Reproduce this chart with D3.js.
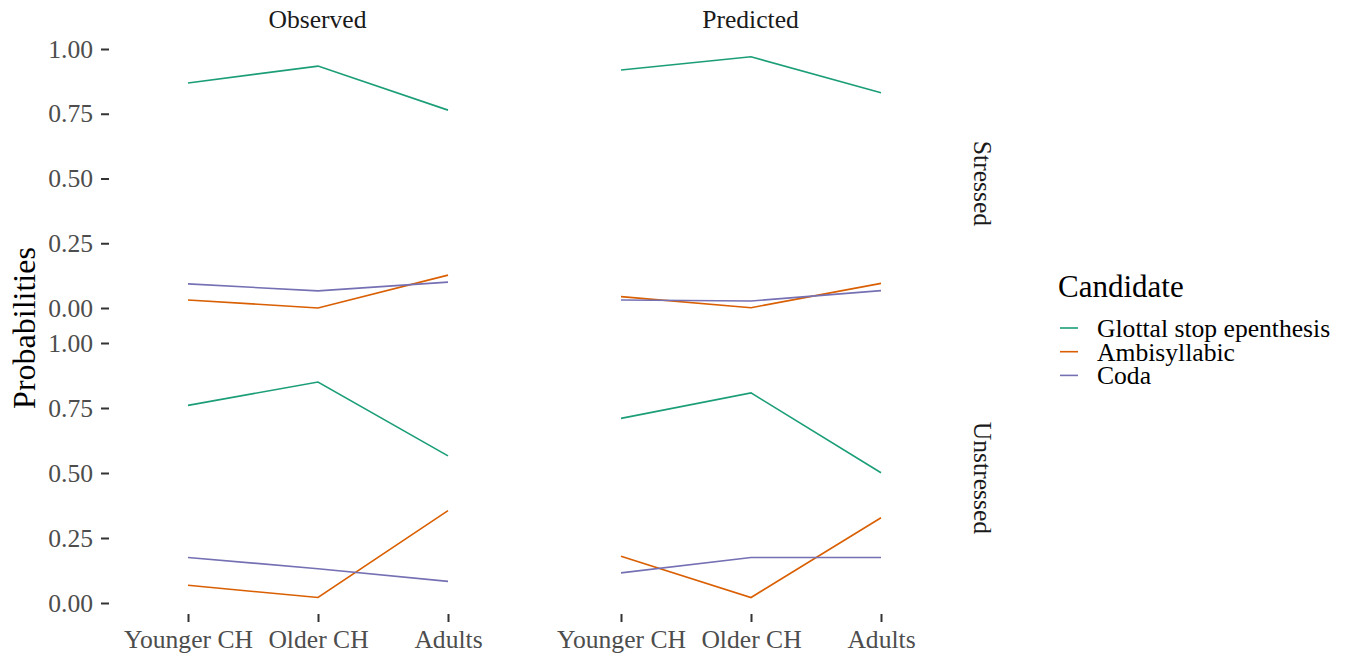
<!DOCTYPE html>
<html>
<head>
<meta charset="utf-8">
<script src="https://cdn.jsdelivr.net/npm/d3@7"></script>
<style>
  body { margin: 0; background: #fff; }
  svg { font-family: "Liberation Serif", "DejaVu Serif", serif; }
</style>
</head>
<body>
<div id="chart"></div>
<script>
const groups = ["Younger CH", "Older CH", "Adults"];
const candidates = ["Glottal stop epenthesis", "Ambisyllabic", "Coda"];
const sources = ["Observed", "Predicted"];
const stressLevels = ["Stressed", "Unstressed"];
const yTicks = [0, 0.25, 0.5, 0.75, 1];

// values per candidate, in group order
const observedStressed = [
    [0.869, 0.934, 0.764],
    [0.031, 0.0, 0.127],
    [0.093, 0.066, 0.100]
];
const predictedStressed = [
    [0.919, 0.970, 0.831],
    [0.044, 0.001, 0.095],
    [0.031, 0.027, 0.067]
];
const observedUnstressed = [
    [0.760, 0.850, 0.566],
    [0.068, 0.021, 0.355],
    [0.175, 0.132, 0.083]
];
const predictedUnstressed = [
    [0.710, 0.808, 0.501],
    [0.180, 0.021, 0.328],
    [0.116, 0.175, 0.175]
];

const panelData = {
    "Observed|Stressed": observedStressed,
    "Predicted|Stressed": predictedStressed,
    "Observed|Unstressed": observedUnstressed,
    "Predicted|Unstressed": predictedUnstressed
};

const width = 1349;
const height = 658;
const serif = "Liberation Serif, serif";

const colorScale = d3.scaleOrdinal(candidates, ["#1B9E77", "#D95F02", "#7570B3"]);

const svg = d3.create("svg")
    .attr("width", width)
    .attr("height", height);

// panel layout
const colRange = { Observed: [123, 513], Predicted: [556, 946] };
const rowRange = { Stressed: [308, 49], Unstressed: [603, 343] };

const x = {};
sources.forEach(s => {
    x[s] = d3.scalePoint(groups, colRange[s]).padding(0.5);
});
const y = {};
stressLevels.forEach(r => {
    y[r] = d3.scaleLinear([0, 1], rowRange[r]);
});

const line = (xs, ys) => d3.line()
    .x((d, i) => xs(groups[i]))
    .y(d => ys(d));

sources.forEach(s => {
    stressLevels.forEach(r => {
        const values = panelData[`${s}|${r}`];
        svg.append("g")
            .selectAll("path")
            .data(values)
            .join("path")
            .attr("fill", "none")
            .attr("stroke", (d, i) => colorScale(candidates[i]))
            .attr("stroke-width", 1.6)
            .attr("d", d => line(x[s], y[r])(d));
    });
});

// y axes (left column only)
stressLevels.forEach(r => {
    const g = svg.append("g")
        .attr("transform", `translate(${colRange.Observed[0] - 14},0)`)
        .call(d3.axisLeft(y[r]).tickValues(yTicks).tickFormat(d3.format(".2f")).tickSize(8).tickPadding(8));
    g.select(".domain").remove();
    g.selectAll(".tick line").attr("stroke", "#333").attr("stroke-width", 2);
    g.selectAll(".tick text")
        .attr("fill", "#4D4D4D")
        .attr("font-size", 25.6)
        .attr("font-family", serif);
});

// x axes (bottom row)
sources.forEach(s => {
    const g = svg.append("g")
        .attr("transform", `translate(0,614)`)
        .call(d3.axisBottom(x[s]).tickSize(8).tickPadding(8));
    g.select(".domain").remove();
    g.selectAll(".tick line").attr("stroke", "#333").attr("stroke-width", 2);
    g.selectAll(".tick text")
        .attr("fill", "#4D4D4D")
        .attr("font-size", 25.6)
        .attr("font-family", serif);
});

// strip labels
svg.append("g")
    .selectAll("text")
    .data(sources)
    .join("text")
    .attr("x", d => (colRange[d][0] + colRange[d][1]) / 2 - 0.5)
    .attr("y", 28)
    .attr("text-anchor", "middle")
    .attr("font-size", 25.6)
    .attr("fill", "#1A1A1A")
    .text(d => d);

svg.append("g")
    .selectAll("text")
    .data(stressLevels)
    .join("text")
    .attr("transform", d => `translate(974,${(rowRange[d][0] + rowRange[d][1]) / 2 + 5}) rotate(90)`)
    .attr("text-anchor", "middle")
    .attr("font-size", 25.6)
    .attr("fill", "#1A1A1A")
    .text(d => d);

// y title
svg.append("text")
    .attr("transform", "translate(35,328) rotate(-90)")
    .attr("text-anchor", "middle")
    .attr("font-size", 32)
    .attr("fill", "#000")
    .text("Probabilities");

// legend
const legend = svg.append("g").attr("transform", "translate(1058,0)");
legend.append("text")
    .attr("x", 0)
    .attr("y", 297)
    .attr("font-size", 31)
    .attr("fill", "#000")
    .text("Candidate");

const items = legend.selectAll("g.item")
    .data(candidates)
    .join("g")
    .attr("class", "item")
    .attr("transform", (d, i) => `translate(0,${328 + i * 23.7})`);
items.append("line")
    .attr("x1", 2).attr("x2", 20)
    .attr("stroke", d => colorScale(d))
    .attr("stroke-width", 1.6);
items.append("text")
    .attr("x", 39)
    .attr("y", 9)
    .attr("font-size", 25.6)
    .attr("fill", "#000")
    .text(d => d);

d3.select("#chart").node().append(svg.node());
</script>
</body>
</html>
